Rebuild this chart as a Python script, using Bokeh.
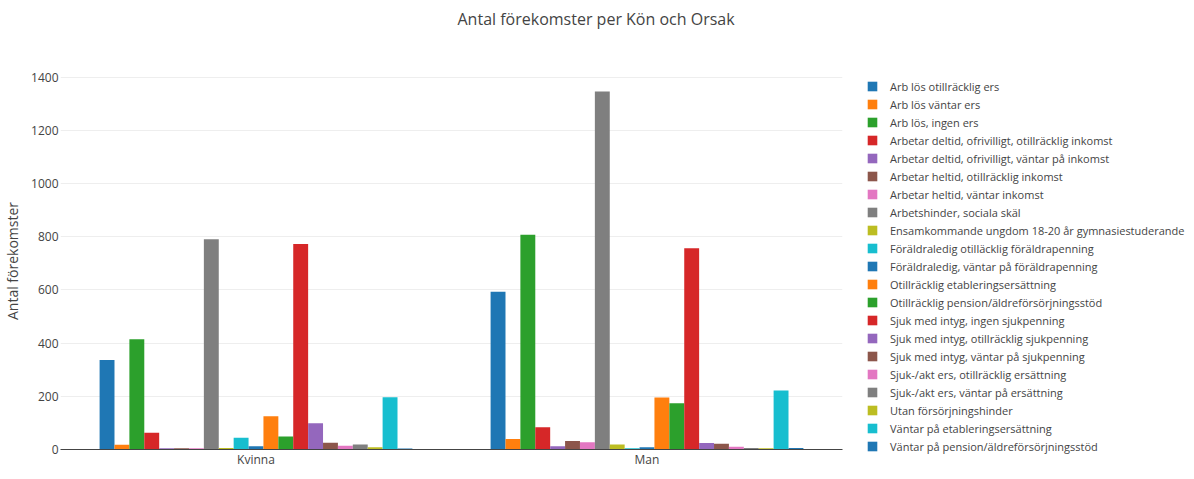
from bokeh.plotting import figure
from bokeh.models import Range1d, FixedTicker, Legend, LegendItem, Title
from bokeh.embed import file_html
from bokeh.resources import INLINE

title_text = "Antal förekomster per Kön och Orsak"
y_label = "Antal förekomster"
categories = ["Kvinna", "Man"]
y_ticks = [0, 200, 400, 600, 800, 1000, 1200, 1400]

series = [
    "Arb lös otillräcklig ers",
    "Arb lös väntar ers",
    "Arb lös, ingen ers",
    "Arbetar deltid, ofrivilligt, otillräcklig inkomst",
    "Arbetar deltid, ofrivilligt, väntar på inkomst",
    "Arbetar heltid, otillräcklig inkomst",
    "Arbetar heltid, väntar inkomst",
    "Arbetshinder, sociala skäl",
    "Ensamkommande ungdom 18-20 år gymnasiestuderande",
    "Föräldraledig otilläcklig föräldrapenning",
    "Föräldraledig, väntar på föräldrapenning",
    "Otillräcklig etableringsersättning",
    "Otillräcklig pension/äldreförsörjningsstöd",
    "Sjuk med intyg, ingen sjukpenning",
    "Sjuk med intyg, otillräcklig sjukpenning",
    "Sjuk med intyg, väntar på sjukpenning",
    "Sjuk-/akt ers, otillräcklig ersättning",
    "Sjuk-/akt ers, väntar på ersättning",
    "Utan försörjningshinder",
    "Väntar på etableringsersättning",
    "Väntar på pension/äldreförsörjningsstöd",
]

kvinna = [336, 18, 414, 63, 5, 5, 5, 790, 6, 44, 12, 125, 49, 772, 99, 25, 14, 19, 8, 196, 4]
man = [593, 39, 807, 84, 12, 32, 27, 1346, 19, 5, 8, 195, 174, 756, 24, 22, 10, 6, 5, 222, 6]

palette = ["#1f77b4", "#ff7f0e", "#2ca02c", "#d62728", "#9467bd",
           "#8c564b", "#e377c2", "#7f7f7f", "#bcbd22", "#17becf"]

FONT = "Open Sans"
TXT = "#444444"

p = figure(frame_width=782, frame_height=377, output_backend="svg", toolbar_location=None,
           x_range=Range1d(-0.5, 1.5), y_range=Range1d(0, 1417),
           min_border_left=49, min_border_right=0, min_border_top=0,
           min_border_bottom=0)
p.outline_line_color = None
p.xgrid.grid_line_color = None
p.ygrid.grid_line_color = "#eeeeee"
p.ygrid.grid_line_width = 1

# main title (outermost panel)
p.title.text = title_text
p.title.text_font = FONT
p.title.text_font_size = "16px"
p.title.text_font_style = "normal"
p.title.text_color = TXT
p.title.align = "left"
p.title.offset = 397
p.title.vertical_align = "middle"
p.title.standoff = 12

# empty spacer panel between title and frame
spacer = Title(text=" ", text_font=FONT, text_font_size="16px", standoff=12)
p.add_layout(spacer, "above")

p.yaxis.ticker = FixedTicker(ticks=y_ticks)
p.yaxis.axis_line_color = None
p.yaxis.major_tick_line_color = None
p.yaxis.major_tick_out = 0
p.yaxis.major_tick_in = 0
p.yaxis.minor_tick_line_color = None
p.yaxis.major_label_standoff = 2
p.yaxis.major_label_text_font = FONT
p.yaxis.major_label_text_font_size = "12px"
p.yaxis.major_label_text_color = TXT
p.yaxis.axis_label = y_label
p.yaxis.axis_label_text_font = FONT
p.yaxis.axis_label_text_font_size = "14px"
p.yaxis.axis_label_text_font_style = "normal"
p.yaxis.axis_label_text_color = TXT
p.yaxis.axis_label_standoff = 6

p.xaxis.ticker = FixedTicker(ticks=list(range(len(categories))))
p.xaxis.major_label_overrides = {i: c for i, c in enumerate(categories)}
p.xaxis.axis_label = None
p.xaxis.axis_label_standoff = 0
p.xaxis.axis_line_color = TXT
p.xaxis.axis_line_width = 1
p.xaxis.major_tick_line_color = None
p.xaxis.major_tick_out = 0
p.xaxis.major_tick_in = 0
p.xaxis.minor_tick_line_color = None
p.xaxis.major_label_standoff = 1
p.xaxis.major_label_text_font = FONT
p.xaxis.major_label_text_font_size = "12px"
p.xaxis.major_label_text_color = TXT

n = len(series)
group = 0.8
bw = group / n
items = []
for i, name in enumerate(series):
    xs = [c - group / 2 + (i + 0.5) * bw for c in range(len(categories))]
    tops = [kvinna[i], man[i]]
    r = p.vbar(x=xs, top=tops, width=bw, bottom=0,
               fill_color=palette[i % 10], line_color=None)
    items.append(LegendItem(label=name, renderers=[r]))

legend = Legend(items=items, location=(24, -6), padding=0, margin=12,
                glyph_width=12, glyph_height=12, label_height=18, spacing=0,
                label_standoff=12, border_line_color=None,
                background_fill_alpha=0,
                label_text_font=FONT, label_text_font_size="11px",
                label_text_color=TXT)
p.add_layout(legend, "right")

open("out.html", "w").write(file_html(p, INLINE))
